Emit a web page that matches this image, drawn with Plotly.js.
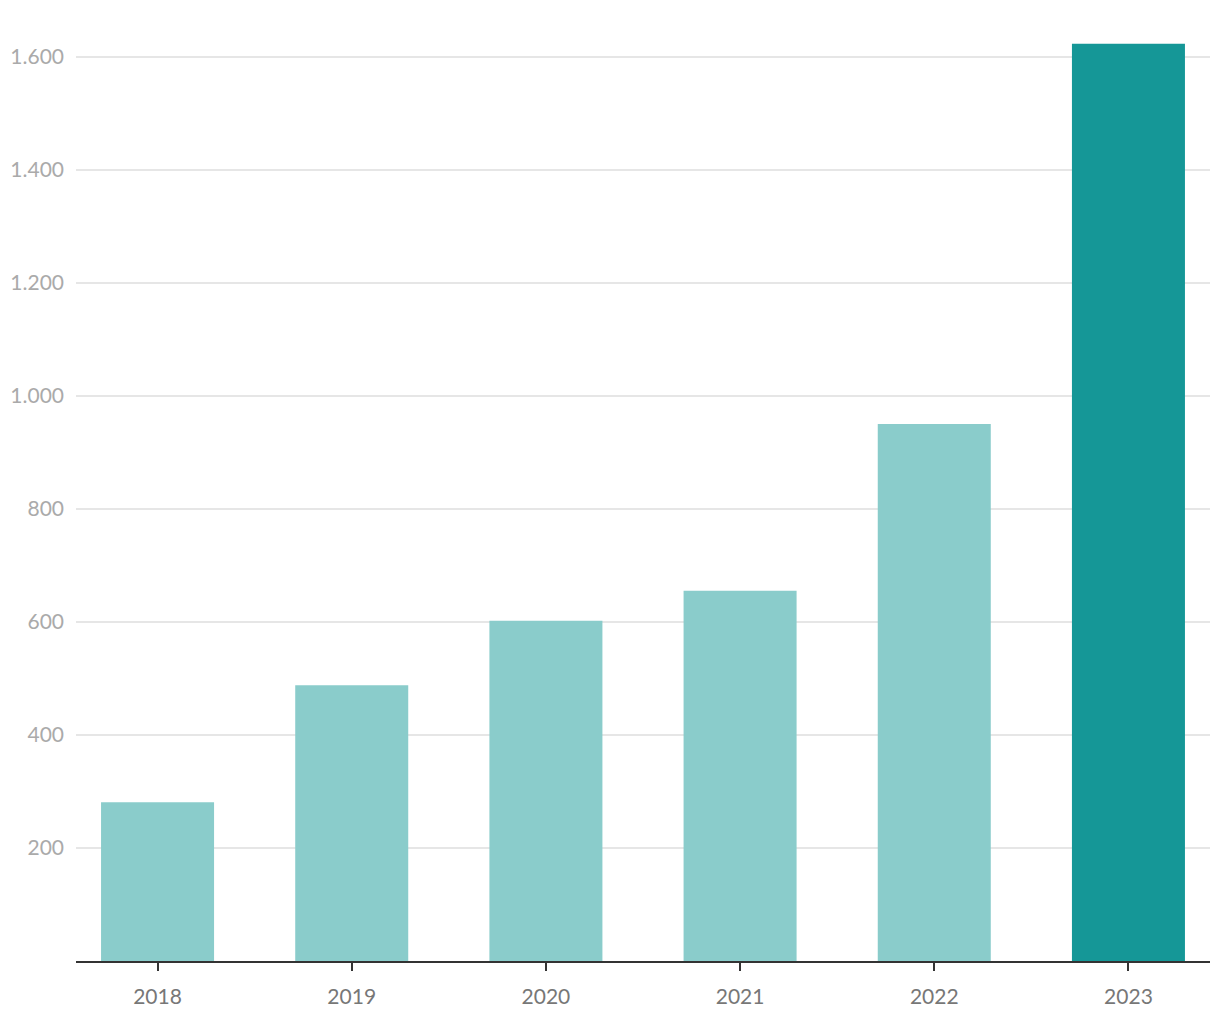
<!DOCTYPE html>
<html>
<head>
<meta charset="utf-8">
<script src="https://cdn.plot.ly/plotly-3.0.1.min.js"></script>
<style>html,body{margin:0;padding:0;background:#fff;}#chart{width:1220px;height:1020px;}</style>
</head>
<body>
<div id="chart"></div>
<script>
const years = ['2018', '2019', '2020', '2021', '2022', '2023'];
const values = [281, 488, 602, 655, 950, 1623];
const barColors = ['#8acccb', '#8acccb', '#8acccb', '#8acccb', '#8acccb', '#159797'];
const yTicks = [200, 400, 600, 800, 1000, 1200, 1400, 1600];

const trace = {
  type: 'bar',
  x: years,
  y: values,
  marker: { color: barColors },
  width: 0.582,
  hoverinfo: 'x+y'
};

const layout = {
  width: 1220,
  height: 1020,
  margin: { l: 76, r: 10, t: 20, b: 59 },
  paper_bgcolor: '#ffffff',
  plot_bgcolor: '#ffffff',
  separators: ',.',
  showlegend: false,
  font: { family: 'Lato, "Open Sans", sans-serif', size: 21 },
  xaxis: {
    type: 'category',
    range: [-0.42, 5.42],
    showline: true,
    linecolor: '#333333',
    linewidth: 2,
    ticks: 'outside',
    ticklen: 8,
    tickwidth: 2,
    tickcolor: '#333333',
    tickfont: { color: '#777777', size: 21 },
    ticklabelstandoff: 8,
    showgrid: false,
    zeroline: false,
    fixedrange: true
  },
  yaxis: {
    range: [0, 1665],
    tickvals: yTicks,
    tickformat: ',d',
    tickfont: { color: '#aaaaaa', size: 21 },
    showgrid: true,
    gridcolor: '#e6e6e6',
    gridwidth: 2,
    zeroline: false,
    showline: false,
    ticks: '',
    ticklabelstandoff: 11,
    fixedrange: true
  }
};

Plotly.newPlot('chart', [trace], layout, { displayModeBar: false, staticPlot: true });
</script>
</body>
</html>
